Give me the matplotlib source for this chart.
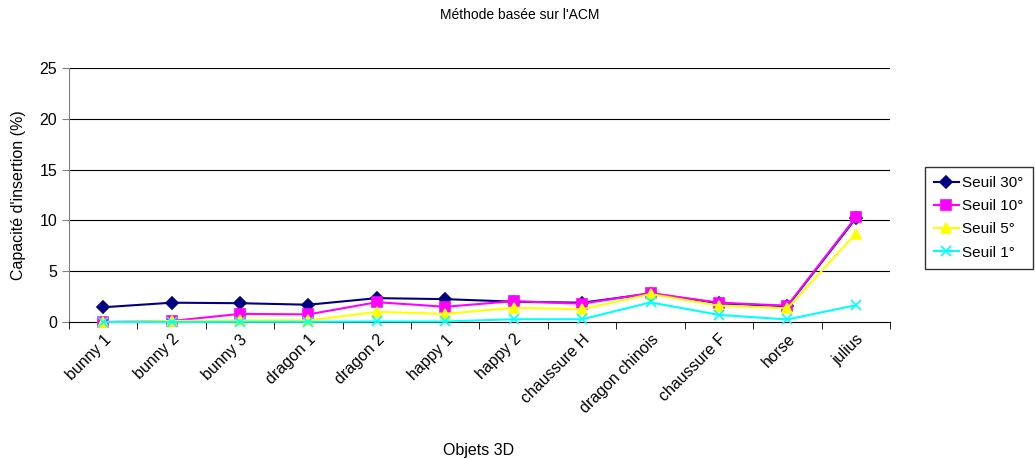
import matplotlib
matplotlib.use("Agg")
import matplotlib.pyplot as plt
import numpy as np

plt.rcParams['font.family'] = ['Liberation Sans', 'DejaVu Sans']

categories = ["bunny 1", "bunny 2", "bunny 3", "dragon 1", "dragon 2", "happy 1",
              "happy 2", "chaussure H", "dragon chinois", "chaussure F", "horse", "julius"]
seuil30 = [1.45, 1.9, 1.85, 1.7, 2.35, 2.25, 2.0, 1.9, 2.8, 1.85, 1.55, 10.2]
seuil10 = [0.0, 0.1, 0.8, 0.75, 1.95, 1.5, 2.05, 1.8, 2.85, 1.9, 1.6, 10.3]
seuil5 = [0.0, 0.1, 0.15, 0.15, 1.0, 0.8, 1.4, 1.25, 2.75, 1.6, 1.35, 8.7]
seuil1 = [0.0, 0.0, 0.02, 0.02, 0.05, 0.05, 0.27, 0.27, 1.93, 0.7, 0.25, 1.65]
yticks = [0, 5, 10, 15, 20, 25]

fig = plt.figure(figsize=(10.35, 4.59), dpi=100)
ax = fig.add_axes([69/1035, 1-322/459, (890-69)/1035, (322-68)/459])

x = np.arange(len(categories))
series = [
    ("Seuil 30°", seuil30, "#000080", "D", 6),
    ("Seuil 10°", seuil10, "#FF00FF", "s", 7),
    ("Seuil 5°", seuil5, "#FFFF00", "^", 7),
    ("Seuil 1°", seuil1, "#00FFFF", "x", 7),
]
for lab, vals, col, mk, ms in series:
    ax.plot(x, vals, color=col, marker=mk, markersize=ms, linewidth=1.5,
            markeredgecolor=col, markerfacecolor=col, markeredgewidth=1.2,
            label=lab, clip_on=False, zorder=3)

ax.set_xlim(-0.5, len(categories) - 0.5)
ax.set_ylim(0, 25)
ax.set_yticks(yticks)
ax.set_yticklabels([str(t) for t in yticks], fontsize=11.5)
ax.set_xticks(x)
ax.set_xticklabels(categories, rotation=45, ha='right', rotation_mode='anchor', fontsize=11.5)
ax.tick_params(axis='x', length=0, pad=7)
ax.set_xticks(np.arange(-0.5, len(categories)), minor=True)
ax.tick_params(axis='x', which='minor', length=5, direction='out', color='black')
ax.tick_params(axis='y', length=5, direction='out', color='#808080')
for t in yticks[1:]:
    ax.axhline(t, color='black', linewidth=0.8, zorder=1)
ax.spines['top'].set_visible(False)
ax.spines['right'].set_visible(False)
ax.spines['left'].set_color('#808080')
ax.spines['bottom'].set_color('black')

ax.set_ylabel("Capacité d'insertion (%)", fontsize=11.5, labelpad=10)
fig.text(479/1035, 1-450/459, "Objets 3D", ha='center', va='center', fontsize=11.5)
fig.text(520/1035, 1-15/459, "Méthode basée sur l'ACM", ha='center', va='center', fontsize=10)

leg = ax.legend(loc='upper left', bbox_to_anchor=(925/1035, 1-167/459), bbox_transform=fig.transFigure,
                fontsize=11, frameon=True, fancybox=False, edgecolor='black', borderpad=0.6,
                handlelength=1.6, labelspacing=0.6, handletextpad=0.25, borderaxespad=0)
leg.get_frame().set_linewidth(1.0)

fig.savefig("out.png", dpi=100)
